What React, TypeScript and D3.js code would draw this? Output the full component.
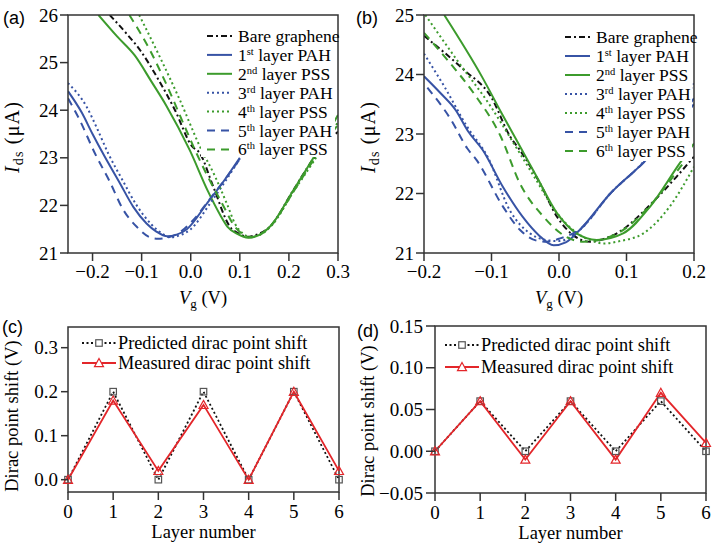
import React from 'react';
import * as d3 from 'd3';

type Pt = [number, number];

// ---------- Panel (a) data: Vg (V), Ids (µA) ----------
const aBare: Pt[] = [[-0.165,26.0],[-0.13,25.6],[-0.103,25.26],[-0.069,24.7],[-0.032,24.0],[0.002,23.25],[0.019,23.09],[0.046,22.39],[0.08,21.55],[0.1,21.4],[0.115,21.34],[0.13,21.37],[0.161,21.55],[0.209,22.32],[0.25,22.98],[0.3,23.55]];
const aPah1: Pt[] = [[-0.25,24.4],[-0.222,23.95],[-0.2,23.5],[-0.175,23.02],[-0.144,22.46],[-0.117,21.97],[-0.09,21.62],[-0.07,21.45],[-0.048,21.35],[-0.03,21.38],[-0.008,21.5],[0.033,22.04],[0.07,22.55],[0.1,23.0]];
const aPss2: Pt[] = [[-0.188,26.0],[-0.15,25.55],[-0.114,25.15],[-0.08,24.6],[-0.05,24.1],[-0.002,23.16],[0.035,22.3],[0.06,21.8],[0.075,21.55],[0.095,21.4],[0.117,21.32],[0.14,21.38],[0.161,21.55],[0.209,22.32],[0.25,23.0],[0.3,23.9]];
const aPah3: Pt[] = [[-0.25,24.57],[-0.212,24.07],[-0.19,23.6],[-0.168,23.09],[-0.14,22.55],[-0.11,22.0],[-0.08,21.6],[-0.06,21.42],[-0.042,21.33],[-0.02,21.38],[0.0,21.5],[0.04,22.05],[0.07,22.5],[0.1,22.98]];
const aPss4: Pt[] = [[-0.105,26.0],[-0.063,25.12],[-0.022,24.21],[0.019,23.23],[0.05,22.6],[0.075,22.0],[0.09,21.62],[0.105,21.42],[0.12,21.34],[0.14,21.38],[0.165,21.58],[0.21,22.3],[0.25,22.92],[0.3,23.75]];
const aPah5: Pt[] = [[-0.25,24.25],[-0.226,23.79],[-0.195,23.09],[-0.165,22.5],[-0.137,21.9],[-0.11,21.55],[-0.083,21.33],[-0.067,21.3],[-0.045,21.33],[-0.02,21.45],[0.01,21.75],[0.04,22.15],[0.07,22.55],[0.1,22.97]];
const aPss6: Pt[] = [[-0.125,26.0],[-0.083,25.26],[-0.049,24.53],[-0.012,23.65],[0.012,23.09],[0.04,22.5],[0.066,22.0],[0.09,21.55],[0.105,21.4],[0.118,21.33],[0.14,21.38],[0.165,21.6],[0.21,22.3],[0.25,22.95],[0.3,23.7]];

// ---------- Panel (b) data ----------
const bBare: Pt[] = [[-0.2,24.65],[-0.141,24.08],[-0.101,23.63],[-0.072,22.95],[-0.058,22.73],[-0.028,22.17],[-0.003,21.61],[0.021,21.3],[0.046,21.19],[0.07,21.25],[0.09,21.36],[0.135,21.81],[0.174,22.28],[0.2,22.62]];
const bPah1: Pt[] = [[-0.2,23.97],[-0.175,23.68],[-0.153,23.4],[-0.135,23.05],[-0.113,22.73],[-0.083,22.11],[-0.054,21.61],[-0.03,21.3],[-0.008,21.13],[0.01,21.18],[0.031,21.39],[0.076,22.0],[0.127,22.54],[0.2,23.5]];
const bPss2: Pt[] = [[-0.17,25.0],[-0.114,23.96],[-0.085,23.35],[-0.063,22.9],[-0.033,22.28],[-0.003,21.67],[0.026,21.33],[0.056,21.22],[0.095,21.33],[0.135,21.78],[0.179,22.51],[0.2,22.84]];
const bPah3: Pt[] = [[-0.2,24.35],[-0.17,23.8],[-0.136,23.12],[-0.105,22.6],[-0.073,21.72],[-0.043,21.33],[-0.02,21.22],[0.0,21.2],[0.031,21.39],[0.076,22.0],[0.127,22.56],[0.2,23.85]];
const bPss4: Pt[] = [[-0.198,25.0],[-0.151,24.24],[-0.101,23.46],[-0.067,22.84],[-0.035,22.25],[-0.005,21.7],[0.025,21.35],[0.05,21.2],[0.066,21.16],[0.09,21.2],[0.125,21.33],[0.164,21.78],[0.2,22.45]];
const bPah5: Pt[] = [[-0.195,23.78],[-0.16,23.24],[-0.136,22.76],[-0.122,22.56],[-0.083,21.78],[-0.058,21.39],[-0.03,21.2],[-0.018,21.19],[0.0,21.24],[0.031,21.4],[0.076,22.0],[0.127,22.54],[0.2,23.6]];
const bPss6: Pt[] = [[-0.2,24.7],[-0.165,24.24],[-0.126,23.68],[-0.086,22.95],[-0.058,22.17],[-0.023,21.61],[0.011,21.27],[0.036,21.19],[0.06,21.22],[0.09,21.35],[0.135,21.8],[0.18,22.45],[0.2,22.75]];

// ---------- Panels (c), (d) data ----------
const layers = [0, 1, 2, 3, 4, 5, 6];
const cPredicted = [0, 0.2, 0, 0.2, 0, 0.2, 0];
const cMeasured = [0, 0.18, 0.02, 0.17, 0, 0.2, 0.02];
const dPredicted = [0, 0.06, 0, 0.06, 0, 0.06, 0];
const dMeasured = [0, 0.06, -0.01, 0.06, -0.01, 0.07, 0.01];

// ---------- ticks ----------
const aXTicks = [-0.2, -0.1, 0.0, 0.1, 0.2, 0.3];
const aYTicks = [21, 22, 23, 24, 25, 26];
const bXTicks = [-0.2, -0.1, 0.0, 0.1, 0.2];
const bYTicks = [21, 22, 23, 24, 25];
const cYTicks = [0.0, 0.1, 0.2, 0.3];
const dYTicks = [-0.05, 0.0, 0.05, 0.1, 0.15];

// legend entries: [number, superscript, rest]
const legendLabels: [string, string, string][] = [
  ['Bare graphene', '', ''],
  ['1', 'st', ' layer PAH'],
  ['2', 'nd', ' layer PSS'],
  ['3', 'rd', ' layer PAH'],
  ['4', 'th', ' layer PSS'],
  ['5', 'th', ' layer PAH'],
  ['6', 'th', ' layer PSS'],
];

const BLUE = '#3753a5';
const GREEN = '#3c9b2c';
const BLACK = '#111';
const RED = '#e3262a';
const AXIS = '#333';

const styles = [
  { color: BLACK, dash: '6,3,2,3' },
  { color: BLUE, dash: '' },
  { color: GREEN, dash: '' },
  { color: BLUE, dash: '2,3' },
  { color: GREEN, dash: '2,3' },
  { color: BLUE, dash: '8,6' },
  { color: GREEN, dash: '8,6' },
];

const SERIF = '"Liberation Serif", "Times New Roman", serif';
const SANS = '"Liberation Sans", Arial, sans-serif';
const TICK_FS = 19;

interface IVProps {
  id: string;
  x0: number; x1: number; y0: number; y1: number;
  xDom: [number, number]; yDom: [number, number];
  xTicks: number[]; yTicks: number[];
  series: Pt[][];
  legend: { x: number; y: number; dy: number; box: [number, number, number, number] };
}

function IVPanel(p: IVProps) {
  const x = d3.scaleLinear().domain(p.xDom).range([p.x0, p.x1]);
  const y = d3.scaleLinear().domain(p.yDom).range([p.y1, p.y0]);
  const line = d3.line<Pt>().x(d => x(d[0])).y(d => y(d[1])).curve(d3.curveMonotoneX);
  const fx = d3.format('.1f');
  const [bx, by, bw, bh] = p.legend.box;
  return (
    <g>
      <defs>
        <clipPath id={'clip' + p.id}>
          <rect x={p.x0} y={p.y0} width={p.x1 - p.x0} height={p.y1 - p.y0} />
        </clipPath>
      </defs>
      <g clipPath={`url(#clip${p.id})`}>
        {p.series.map((s, i) => (
          <path key={i} d={line(s) || ''} fill="none" stroke={styles[i].color} strokeWidth={2}
            strokeDasharray={styles[i].dash || undefined} />
        ))}
      </g>
      <rect x={bx} y={by} width={bw} height={bh} fill="#fff" />
      <rect x={p.x0} y={p.y0} width={p.x1 - p.x0} height={p.y1 - p.y0} fill="none" stroke={AXIS} strokeWidth={1.5} />
      {p.yTicks.map(t => (
        <g key={'y' + t}>
          <line x1={p.x0 - 8} x2={p.x0} y1={y(t)} y2={y(t)} stroke={AXIS} strokeWidth={1.5} />
          <text x={p.x0 - 10} y={y(t) + 6.5} textAnchor="end" fontFamily={SERIF} fontSize={TICK_FS}>{t}</text>
        </g>
      ))}
      {p.xTicks.map(t => (
        <g key={'x' + t}>
          <line x1={x(t)} x2={x(t)} y1={p.y1} y2={p.y1 + 8} stroke={AXIS} strokeWidth={1.5} />
          <text x={x(t)} y={p.y1 + 25} textAnchor="middle" fontFamily={SERIF} fontSize={TICK_FS}>{fx(t)}</text>
        </g>
      ))}
      <text x={(p.x0 + p.x1) / 2} y={p.y1 + 51} textAnchor="middle" fontFamily={SERIF} fontSize={18.5}>
        <tspan fontStyle="italic">V</tspan><tspan fontSize={13} dy={4}>g</tspan><tspan dy={-4}> (V)</tspan>
      </text>
      <text transform={`translate(${p.x0 - 49},${(p.y0 + p.y1) / 2 + 3}) rotate(-90)`} textAnchor="middle" fontFamily={SERIF} fontSize={20} letterSpacing={1.2}>
        <tspan fontStyle="italic">I</tspan><tspan fontSize={14} dy={4}>ds</tspan><tspan dy={-4}> (μA)</tspan>
      </text>
      {legendLabels.map((l, i) => {
        const ly = p.legend.y + i * p.legend.dy;
        return (
          <g key={'lg' + i}>
            <line x1={p.legend.x} x2={p.legend.x + 25} y1={ly} y2={ly} stroke={styles[i].color} strokeWidth={2}
              strokeDasharray={styles[i].dash || undefined} />
            <text x={p.legend.x + 31} y={ly + 6} fontFamily={SERIF} fontSize={17.5}>
              {l[1] ? (
                <>
                  <tspan>{l[0]}</tspan><tspan fontSize={10.5} dy={-6}>{l[1]}</tspan><tspan dy={6}>{l[2]}</tspan>
                </>
              ) : l[0]}
            </text>
          </g>
        );
      })}
    </g>
  );
}

interface ShiftProps {
  id: string;
  x0: number; x1: number; y0: number; y1: number;
  yDom: [number, number]; yTicks: number[]; fmt: string;
  predicted: number[]; measured: number[];
  legend: { x: number; y: number; dy: number };
  tickLen: number;
  labelX: number;
  labelY: number;
}

function ShiftPanel(p: ShiftProps) {
  const x = d3.scaleLinear().domain([0, 6]).range([p.x0, p.x1]);
  const y = d3.scaleLinear().domain(p.yDom).range([p.y1, p.y0]);
  const f = d3.format(p.fmt);
  const pred = layers.map((l, i) => [l, p.predicted[i]] as Pt);
  const meas = layers.map((l, i) => [l, p.measured[i]] as Pt);
  const line = d3.line<Pt>().x(d => x(d[0])).y(d => y(d[1]));
  const sq = 6.5;
  const tri = (cx: number, cy: number) => {
    const s = 4.5;
    return `M${cx},${cy - s}L${cx + s},${cy + s * 0.8}L${cx - s},${cy + s * 0.8}Z`;
  };
  const lx = p.legend.x, ly = p.legend.y;
  return (
    <g>
      <rect x={p.x0} y={p.y0} width={p.x1 - p.x0} height={p.y1 - p.y0} fill="none" stroke={AXIS} strokeWidth={1.5} />
      <path d={line(pred) || ''} fill="none" stroke={BLACK} strokeWidth={1.8} strokeDasharray="2,2.5" />
      <path d={line(meas) || ''} fill="none" stroke={RED} strokeWidth={1.8} />
      {pred.map((d, i) => (
        <rect key={'s' + i} x={x(d[0]) - sq / 2} y={y(d[1]) - sq / 2} width={sq} height={sq} fill="none" stroke="#555" strokeWidth={1.2} />
      ))}
      {meas.map((d, i) => (
        <path key={'t' + i} d={tri(x(d[0]), y(d[1]))} fill="none" stroke={RED} strokeWidth={1.2} />
      ))}
      {p.yTicks.map(t => (
        <g key={'y' + t}>
          <line x1={p.x0 - p.tickLen} x2={p.x0} y1={y(t)} y2={y(t)} stroke={AXIS} strokeWidth={1.5} />
          <text x={p.x0 - p.tickLen - 3} y={y(t) + 6.5} textAnchor="end" fontFamily={SERIF} fontSize={TICK_FS}>{f(t)}</text>
        </g>
      ))}
      {layers.map(t => (
        <g key={'x' + t}>
          <line x1={x(t)} x2={x(t)} y1={p.y1} y2={p.y1 + 8} stroke={AXIS} strokeWidth={1.5} />
          <text x={x(t)} y={p.y1 + 26} textAnchor="middle" fontFamily={SERIF} fontSize={TICK_FS}>{t}</text>
        </g>
      ))}
      <text x={(p.x0 + p.x1) / 2} y={p.y1 + 46} textAnchor="middle" fontFamily={SERIF} fontSize={18.5}>Layer number</text>
      <text transform={`translate(${p.labelX},${p.labelY}) rotate(-90)`} textAnchor="middle" fontFamily={SERIF} fontSize={18.5}>Dirac point shift (V)</text>
      {/* legend */}
      <line x1={lx} x2={lx + 34} y1={ly} y2={ly} stroke={BLACK} strokeWidth={1.8} strokeDasharray="2,2.5" />
      <rect x={lx + 17 - sq / 2} y={ly - sq / 2} width={sq} height={sq} fill="#fff" stroke="#555" strokeWidth={1.2} />
      <text x={lx + 36} y={ly + 6} fontFamily={SERIF} fontSize={18.3}>Predicted dirac point shift</text>
      <line x1={lx} x2={lx + 34} y1={ly + p.legend.dy} y2={ly + p.legend.dy} stroke={RED} strokeWidth={1.8} />
      <path d={tri(lx + 17, ly + p.legend.dy)} fill="#fff" stroke={RED} strokeWidth={1.2} />
      <text x={lx + 36} y={ly + p.legend.dy + 6} fontFamily={SERIF} fontSize={18.3}>Measured dirac point shift</text>
    </g>
  );
}

export default function App() {
  return (
    <svg width={712} height={547} viewBox="0 0 712 547" style={{ position: 'absolute', left: 0, top: 0, background: '#fff' }}>
      <rect x={0} y={0} width={712} height={547} fill="#fff" />
      <IVPanel id="a" x0={68} x1={338} y0={15} y1={253} xDom={[-0.25, 0.3]} yDom={[21, 26]}
        xTicks={aXTicks} yTicks={aYTicks} series={[aBare, aPah1, aPss2, aPah3, aPss4, aPah5, aPss6]}
        legend={{ x: 207, y: 36, dy: 18.9, box: [201, 26, 134, 131] }} />
      <IVPanel id="b" x0={424} x1={694} y0={15} y1={253} xDom={[-0.2, 0.2]} yDom={[21, 25]}
        xTicks={bXTicks} yTicks={bYTicks} series={[bBare, bPah1, bPss2, bPah3, bPss4, bPah5, bPss6]}
        legend={{ x: 565, y: 37, dy: 19, box: [559, 27, 133, 134] }} />
      <ShiftPanel id="c" x0={68} x1={339} y0={327} y1={492} yDom={[-0.028, 0.347]} yTicks={cYTicks} fmt=".1f"
        predicted={cPredicted} measured={cMeasured} legend={{ x: 82, y: 343, dy: 20 }} tickLen={7} labelX={18} labelY={416} />
      <ShiftPanel id="d" x0={435} x1={706} y0={326} y1={493} yDom={[-0.05, 0.15]} yTicks={dYTicks} fmt=".2f"
        predicted={dPredicted} measured={dMeasured} legend={{ x: 445, y: 345, dy: 22 }} tickLen={9} labelX={374} labelY={421} />
      <text x={3} y={24} fontFamily={SANS} fontSize={18}>(a)</text>
      <text x={356} y={24} fontFamily={SANS} fontSize={18}>(b)</text>
      <text x={2} y={333} fontFamily={SANS} fontSize={18}>(c)</text>
      <text x={357} y={337} fontFamily={SANS} fontSize={18}>(d)</text>
    </svg>
  );
}
